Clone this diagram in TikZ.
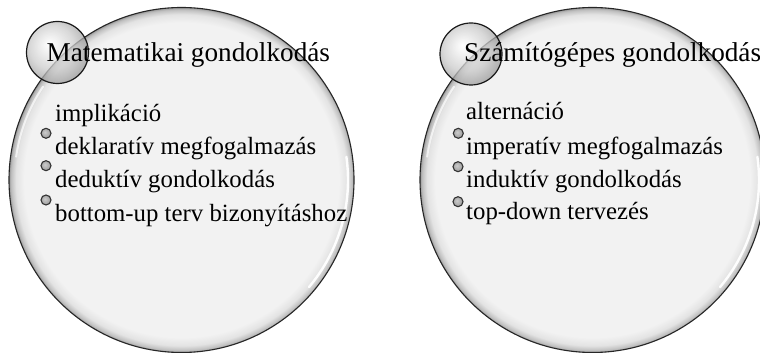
\documentclass[tikz,border=0pt]{standalone}
\usepackage{fontspec}
\setmainfont{Liberation Serif}
\usetikzlibrary{calc}
\definecolor{bubbg}{HTML}{F2F2F2}
\pgfdeclareradialshading{bigbub}{\pgfpoint{0bp}{0bp}}{%
  color(0bp)=(bubbg); color(22.8bp)=(bubbg); color(24bp)=(gray!22);
  color(24.7bp)=(gray!50); color(25bp)=(gray!80); color(50bp)=(gray!80)}
\pgfdeclareradialshading{smallbub}{\pgfpoint{-7bp}{7bp}}{%
  color(0bp)=(white); color(7bp)=(gray!15); color(18bp)=(gray!40);
  color(30bp)=(gray!85); color(50bp)=(gray!85)}
\pgfdeclareradialshading{bulletsh}{\pgfpoint{-6bp}{6bp}}{%
  color(0bp)=(gray!40); color(25bp)=(gray!75); color(50bp)=(gray!75)}
\tikzset{
  bigbubble/.style={draw=black!85, line width=1.1pt, shading=bigbub},
  smallbubble/.style={draw=black!90, line width=1.2pt, shading=smallbub, fill opacity=0.75, draw opacity=1},
  glint/.style={draw=white, line width=2.4pt, line cap=round, opacity=0.95},
  softglint/.style={draw=white, line width=2pt, line cap=round, opacity=0.7},
  bulletdot/.style={circle, draw=black!80, line width=1.1pt, shading=bulletsh, minimum size=10pt, inner sep=0pt},
  titletext/.style={anchor=base west, inner sep=0pt, font=\fontsize{27.2}{30}\selectfont},
  itemtext/.style={anchor=base west, inner sep=0pt, font=\fontsize{24.8}{28}\selectfont}
}
\begin{document}
\begin{tikzpicture}[x=1pt,y=1pt]
\useasboundingbox (0,0) rectangle (760,353);
\clip (0,0) rectangle (760,353);
\fill[white] (0,0) rectangle (760,353);
% left bubble
\coordinate (LC) at (181.5,173);
\path[bigbubble] (LC) circle[radius=172.5pt];
\draw[glint] ($(LC)+(8:166.5)$) arc[start angle=8, end angle=-40, radius=166.5pt];
\draw[softglint] ($(LC)+(146:167)$) arc[start angle=146, end angle=172, radius=167pt];
\coordinate (LS) at (57.5,300.5);
\path[smallbubble] (LS) circle[radius=31pt];
% right bubble
\coordinate (RC) at (592.5,173);
\path[bigbubble] (RC) circle[radius=172.5pt];
\draw[glint] ($(RC)+(8:166.5)$) arc[start angle=8, end angle=-40, radius=166.5pt];
\draw[softglint] ($(RC)+(146:167)$) arc[start angle=146, end angle=172, radius=167pt];
\coordinate (RS) at (471,299);
\path[smallbubble] (RS) circle[radius=31pt];
% left texts
\node[titletext] (lt) at (46.5,291.5) {Matematikai gondolkodás};
\node[itemtext] (l1) at (55,231.3) {implikáció};
\node[itemtext] (l2) at (55,198) {deklaratív megfogalmazás};
\node[itemtext] (l3) at (55,165) {deduktív gondolkodás};
\node[itemtext] (l4) at (55,131.3) {bottom-up terv bizonyításhoz};
\node[bulletdot] (lb1) at (46,219.7) {};
\node[bulletdot] (lb2) at (46,187.3) {};
\node[bulletdot] (lb3) at (46,153) {};
% right texts
\node[titletext] (rt) at (464,291.5) {Számítógépes gondolkodás};
\node[itemtext] (r1) at (466,233) {alternáció};
\node[itemtext] (r2) at (466,198) {imperatív megfogalmazás};
\node[itemtext] (r3) at (466,165) {induktív gondolkodás};
\node[itemtext] (r4) at (466,133) {top-down tervezés};
\node[bulletdot] (rb1) at (458.3,219.7) {};
\node[bulletdot] (rb2) at (458,186.3) {};
\node[bulletdot] (rb3) at (458,151.3) {};
\end{tikzpicture}
\end{document}
